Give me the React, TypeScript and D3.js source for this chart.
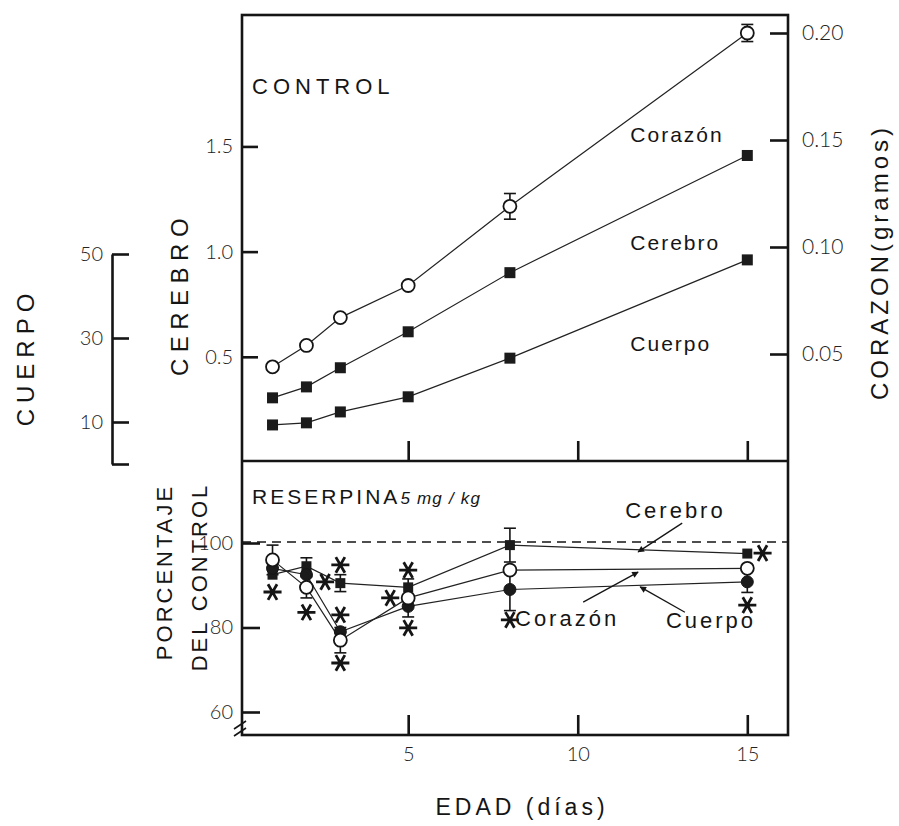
import React, { useEffect, useRef } from "react";
import * as d3 from "d3";

// edad (días)
const days = [1, 2, 3, 5, 8, 15];

// CONTROL
const corazonCtrl = [0.044, 0.054, 0.067, 0.082, 0.119, 0.2];
const corazonCtrlErr = [0, 0, 0, 0, 0.006, 0.004];
const cerebroCtrl = [0.305, 0.357, 0.448, 0.619, 0.9, 1.457];
const cuerpoCtrl = [9.3, 9.8, 12.4, 16.0, 25.2, 48.6];

// RESERPINA, % del control
const cerebroRes = [92.5, 94.5, 90.5, 89.5, 99.5, 97.5];
const cerebroResErr = [0, 2, 2, 2, 4, 0];
const corazonRes = [96, 89.5, 77, 87, 93.6, 94];
const corazonResErr = [3.5, 2.5, 3, 0, 0, 0];
const cuerpoRes = [94, 92.5, 79, 85, 89, 90.8];
const cuerpoResErr = [0, 0, 0, 2.5, 5, 2.5];

// asteriscos (día, %)
const starDays = [1, 2, 2.55, 3, 3, 3, 4.47, 5, 5, 8, 15.45, 15];
const starVals = [88.4, 83.6, 90.8, 94.8, 83, 71.6, 87, 93.6, 79.9, 81.8, 97.6, 85.3];

// ticks
const xTicks = [5, 10, 15];
const cerebroTicks = [0.5, 1.0, 1.5];
const corazonTicks = [0.05, 0.1, 0.15, 0.2];
const cuerpoTicks = [0, 10, 30, 50];
const pctTicks = [60, 80, 100];

// etiquetas con flecha en el panel inferior: [texto, día, %, día inicio, % inicio, día fin, % fin]
const arrowLabels: [string, number, number, number, number, number, number][] = [
  ["Cerebro", 11.4, 106, 13.08, 104.7, 11.78, 97.9],
  ["Corazón", 8.15, 80.4, 10.16, 86, 11.78, 93.1],
  ["Cuerpo", 12.6, 80, 13.16, 83.6, 11.84, 89.6],
];

const INK = "#151515";
const FONT = "'Liberation Sans', 'DejaVu Sans', sans-serif";
const LIGHT = "Lato, 'Open Sans', sans-serif";

export default function App() {
  const ref = useRef<SVGSVGElement>(null);

  useEffect(() => {
    const svg = d3.select(ref.current);
    svg.selectAll("*").remove();

    const left = 242, right = 788, top = 15, mid = 461, bottom = 735;

    const x = d3.scaleLinear().domain([0.1, 16.2]).range([left, right]);
    const yCerebro = d3.scaleLinear().domain([0, 2.12]).range([462, 16]);
    const yCorazon = d3.scaleLinear().domain([0, 0.2]).range([461, 33]);
    const yCuerpo = d3.scaleLinear().domain([0, 50]).range([464, 254]);
    const yPct = d3.scaleLinear().domain([60, 100]).range([712, 543]);

    const defs = svg.append("defs");
    defs
      .append("marker")
      .attr("id", "arr")
      .attr("viewBox", "0 0 10 10")
      .attr("refX", 9)
      .attr("refY", 5)
      .attr("markerWidth", 7)
      .attr("markerHeight", 5)
      .attr("orient", "auto")
      .append("path")
      .attr("d", "M0,0L10,5L0,10z")
      .attr("fill", INK);

    // marco
    const frame = svg.append("g").attr("stroke", INK).attr("stroke-width", 2.6).attr("fill", "none");
    frame.append("rect").attr("x", left).attr("y", top).attr("width", right - left).attr("height", bottom - top);
    frame.append("line").attr("x1", left).attr("x2", right).attr("y1", mid).attr("y2", mid);
    // corte del eje
    frame
      .append("path")
      .attr("stroke-width", 1.6)
      .attr("d", `M${left - 8},${bottom - 6}L${left + 4},${bottom - 14}M${left - 8},${bottom + 1}L${left + 4},${bottom - 7}`);

    const styleAxis = (g: any, size = 20) => {
      g.selectAll(".tick line").attr("stroke", INK).attr("stroke-width", 2.6);
      g.selectAll(".tick text")
        .attr("fill", "#222")
        .attr("font-family", LIGHT)
        .attr("font-weight", 300)
        .attr("font-size", size);
    };

    // ejes x
    svg
      .append("g")
      .attr("transform", `translate(0,${mid})`)
      .call(d3.axisBottom(x).tickValues(xTicks).tickSize(-20).tickFormat(() => ""))
      .call((g: any) => g.select(".domain").remove())
      .call(styleAxis);
    svg
      .append("g")
      .attr("transform", `translate(0,${bottom})`)
      .call(d3.axisBottom(x).tickValues(xTicks).tickSize(-20).tickPadding(12))
      .call((g: any) => g.select(".domain").remove())
      .call(styleAxis);

    // eje cerebro
    svg
      .append("g")
      .attr("transform", `translate(${left},0)`)
      .call(d3.axisLeft(yCerebro).tickValues(cerebroTicks).tickSize(-16).tickPadding(9).tickFormat(d3.format(".1f")))
      .call((g: any) => g.select(".domain").remove())
      .call(styleAxis);

    // eje corazón
    svg
      .append("g")
      .attr("transform", `translate(${right},0)`)
      .call(d3.axisRight(yCorazon).tickValues(corazonTicks).tickSize(-18).tickPadding(14).tickFormat(d3.format(".2f")))
      .call((g: any) => g.select(".domain").remove())
      .call((g: any) => styleAxis(g, 21));

    // eje cuerpo
    svg
      .append("g")
      .attr("transform", `translate(112,0)`)
      .call(
        d3
          .axisLeft(yCuerpo)
          .tickValues(cuerpoTicks)
          .tickSize(-17)
          .tickSizeOuter(0)
          .tickPadding(9)
          .tickFormat((d: any) => (d === 0 ? "" : String(d)))
      )
      .call((g: any) => g.select(".domain").attr("stroke", INK).attr("stroke-width", 2.6))
      .call(styleAxis);

    // eje porcentaje
    svg
      .append("g")
      .attr("transform", `translate(${left},0)`)
      .call(d3.axisLeft(yPct).tickValues(pctTicks).tickSize(-18).tickPadding(9))
      .call((g: any) => g.select(".domain").remove())
      .call(styleAxis);

    // línea 100 %
    svg
      .append("line")
      .attr("x1", left)
      .attr("x2", right)
      .attr("y1", yPct(100) - 1)
      .attr("y2", yPct(100) - 1)
      .attr("stroke", INK)
      .attr("stroke-width", 1.5)
      .attr("stroke-dasharray", "9,6");

    const drawLine = (vals: number[], y: any) =>
      svg
        .append("path")
        .datum(vals)
        .attr("fill", "none")
        .attr("stroke", "#222")
        .attr("stroke-width", 1.2)
        .attr("d", d3.line<number>().x((_, i) => x(days[i])).y((v) => y(v)));

    const drawErr = (vals: number[], errs: number[], y: any) => {
      const g = svg.append("g").attr("stroke", INK).attr("stroke-width", 1.6);
      vals.forEach((v, i) => {
        if (!errs[i]) return;
        const cx = x(days[i]);
        const y1 = y(v + errs[i]);
        const y2 = y(v - errs[i]);
        g.append("line").attr("x1", cx).attr("x2", cx).attr("y1", y1).attr("y2", y2);
        g.append("line").attr("x1", cx - 6).attr("x2", cx + 6).attr("y1", y1).attr("y2", y1);
        g.append("line").attr("x1", cx - 6).attr("x2", cx + 6).attr("y1", y2).attr("y2", y2);
      });
    };

    const drawSquares = (vals: number[], y: any, s: number) =>
      svg
        .append("g")
        .selectAll("rect")
        .data(vals)
        .join("rect")
        .attr("x", (_, i) => x(days[i]) - s / 2)
        .attr("y", (v) => y(v) - s / 2)
        .attr("width", s)
        .attr("height", s)
        .attr("fill", "#1b1b1b");

    const drawCircles = (vals: number[], y: any, r: number, open: boolean) =>
      svg
        .append("g")
        .selectAll("circle")
        .data(vals)
        .join("circle")
        .attr("cx", (_, i) => x(days[i]))
        .attr("cy", (v) => y(v))
        .attr("r", r)
        .attr("fill", open ? "#fff" : "#1b1b1b")
        .attr("stroke", INK)
        .attr("stroke-width", open ? 1.8 : 1);

    // panel CONTROL
    drawLine(corazonCtrl, yCorazon);
    drawLine(cerebroCtrl, yCerebro);
    drawLine(cuerpoCtrl, yCuerpo);
    drawErr(corazonCtrl, corazonCtrlErr, yCorazon);
    drawSquares(cerebroCtrl, yCerebro, 11);
    drawSquares(cuerpoCtrl, yCuerpo, 11);
    drawCircles(corazonCtrl, yCorazon, 6.5, true);

    // panel RESERPINA
    drawLine(cerebroRes, yPct);
    drawLine(corazonRes, yPct);
    drawLine(cuerpoRes, yPct);
    drawErr(cerebroRes, cerebroResErr, yPct);
    drawErr(corazonRes, corazonResErr, yPct);
    drawErr(cuerpoRes, cuerpoResErr, yPct);
    drawSquares(cerebroRes, yPct, 10);
    drawCircles(cuerpoRes, yPct, 6, false);
    drawCircles(corazonRes, yPct, 6.5, true);

    // asteriscos
    const star = d3.symbol().type(d3.symbolAsterisk).size(230);
    svg
      .append("g")
      .selectAll("path")
      .data(starDays)
      .join("path")
      .attr("d", star as any)
      .attr("transform", (d, i) => `translate(${x(d)},${yPct(starVals[i])}) rotate(90)`)
      .attr("fill", "none")
      .attr("stroke", INK)
      .attr("stroke-width", 2.8);

    // flechas
    const arrows = svg.append("g");
    arrowLabels.forEach(([t, tx, ty, x1, y1, x2, y2]) => {
      arrows
        .append("line")
        .attr("x1", x(x1))
        .attr("y1", yPct(y1))
        .attr("x2", x(x2))
        .attr("y2", yPct(y2))
        .attr("stroke", INK)
        .attr("stroke-width", 1.3)
        .attr("marker-end", "url(#arr)");
      arrows
        .append("text")
        .attr("x", x(tx))
        .attr("y", yPct(ty))
        .attr("font-family", FONT)
        .attr("font-size", 22)
        .attr("letter-spacing", 3)
        .attr("fill", INK)
        .text(t);
    });

    const text = (t: string, px: number, py: number, size: number, opts: any = {}) =>
      svg
        .append("text")
        .attr("x", px)
        .attr("y", py)
        .attr("font-family", opts.family || FONT)
        .attr("font-size", size)
        .attr("font-weight", opts.weight || "normal")
        .attr("font-style", opts.style || "normal")
        .attr("letter-spacing", opts.ls ?? 2)
        .attr("text-anchor", opts.anchor || "start")
        .attr("fill", INK)
        .attr("transform", opts.rotate ? `rotate(-90,${px},${py})` : null)
        .text(t);

    // textos panel superior
    text("CONTROL", 252, 94, 22, { ls: 5 });
    text("Corazón", x(11.55), yCorazon(0.149), 21);
    text("Cerebro", x(11.55), yCerebro(1.01), 21);
    text("Cuerpo", x(11.55), yCerebro(0.53), 21);

    // textos panel inferior
    const res = svg.append("text").attr("x", 252).attr("y", 504).attr("fill", INK).attr("font-family", FONT);
    res.append("tspan").attr("font-size", 21).attr("letter-spacing", 3).text("RESERPINA");
    res
      .append("tspan")
      .attr("font-size", 17)
      .attr("font-style", "italic")
      .attr("letter-spacing", 1.2)
      .text("5 mg / kg");

    // títulos de ejes
    text("CUERPO", 34, 357, 24, { rotate: true, anchor: "middle", ls: 6 });
    text("CEREBRO", 188, 294, 24, { rotate: true, anchor: "middle", ls: 6.5 });
    text("CORAZON(gramos)", 888, 262, 24, { rotate: true, anchor: "middle", ls: 4 });
    text("PORCENTAJE", 172, 572, 22, { rotate: true, anchor: "middle", ls: 3 });
    text("DEL CONTROL", 207, 577, 22, { rotate: true, anchor: "middle", ls: 3 });
    text("EDAD  (días)", 522, 815, 23, { anchor: "middle", ls: 4 });
  }, []);

  return (
    <svg
      ref={ref}
      width={899}
      height={826}
      style={{ position: "absolute", left: 0, top: 0, background: "#fff" }}
    />
  );
}
